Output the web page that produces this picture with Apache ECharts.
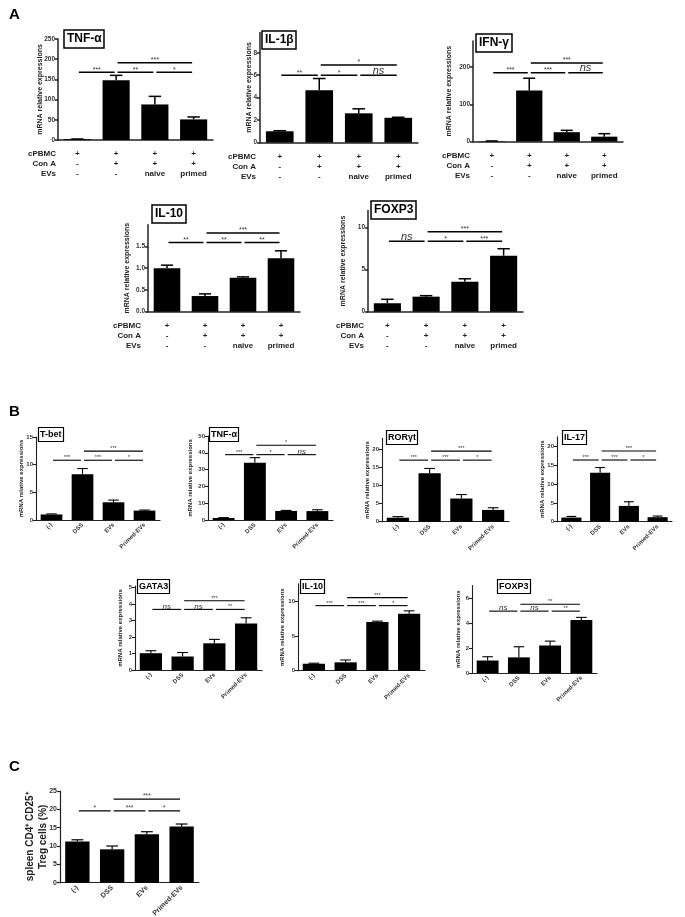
<!DOCTYPE html>
<html>
<head>
<meta charset="utf-8">
<script src="https://cdn.jsdelivr.net/npm/echarts@6/dist/echarts.min.js"></script>
<style>
  html, body { margin: 0; padding: 0; background: #fff; }
  #chart { width: 685px; height: 917px; }
</style>
</head>
<body>
<div id="chart"></div>
<script>
// ---------- panel A: cPBMC culture conditions ----------
const rowCpbmc = ['+', '+', '+', '+'];
const rowConA = ['-', '+', '+', '+'];
const rowEVs = ['-', '-', 'naive', 'primed'];

const tnfA = [2, 148, 88, 51];
const tnfAErr = [0.5, 12, 20, 6];
const tnfASig = [[0, 1, 168, '***'], [1, 2, 168, '**'], [2, 3, 168, '*'], [1, 3, 191, '***']];

const il1bA = [1.0, 4.65, 2.6, 2.2];
const il1bAErr = [0.05, 1.05, 0.4, 0.05];
const il1bASig = [[0, 1, 6.0, '**'], [1, 2, 6.0, '*'], [2, 3, 6.0, 'ns'], [1, 3, 6.9, '*']];

const ifngA = [1, 137, 25, 13];
const ifngAErr = [0.5, 33, 5, 8];
const ifngASig = [[0, 1, 185, '***'], [1, 2, 185, '***'], [2, 3, 185, 'ns'], [1, 3, 211, '***']];

const il10A = [1.0, 0.36, 0.78, 1.23];
const il10AErr = [0.07, 0.05, 0.02, 0.17];
const il10ASig = [[0, 1, 1.59, '**'], [1, 2, 1.59, '**'], [2, 3, 1.59, '**'], [1, 3, 1.81, '***']];

const foxp3A = [1.0, 1.78, 3.55, 6.64];
const foxp3AErr = [0.47, 0.12, 0.35, 0.82];
const foxp3ASig = [[0, 1, 8.34, 'ns'], [1, 2, 8.34, '*'], [2, 3, 8.34, '***'], [1, 3, 9.48, '***']];

// ---------- panel B / C: DSS colitis groups ----------
const groupsB = ['(-)', 'DSS', 'EVs', 'Primed-EVs'];

const tbetB = [1.0, 8.25, 3.2, 1.7];
const tbetBErr = [0.1, 1.05, 0.4, 0.1];
const tbetBSig = [[0, 1, 10.8, '***'], [1, 2, 10.8, '***'], [2, 3, 10.8, '*'], [1, 3, 12.45, '***']];

const tnfB = [1.2, 34.1, 5.4, 5.3];
const tnfBErr = [0.2, 3.0, 0.3, 0.8];
const tnfBSig = [[0, 1, 38.9, '***'], [1, 2, 38.9, '*'], [2, 3, 38.9, 'ns'], [1, 3, 44.5, '*']];

const rorgtB = [1.1, 13.4, 6.4, 3.25];
const rorgtBErr = [0.3, 1.3, 1.1, 0.6];
const rorgtBSig = [[0, 1, 17.0, '***'], [1, 2, 17.0, '***'], [2, 3, 17.0, '*'], [1, 3, 19.5, '***']];

const il17B = [1.1, 13.0, 4.2, 1.2];
const il17BErr = [0.3, 1.4, 1.1, 0.3];
const il17BSig = [[0, 1, 16.4, '***'], [1, 2, 16.4, '***'], [2, 3, 16.4, '*'], [1, 3, 18.8, '***']];

const gata3B = [1.02, 0.82, 1.62, 2.83];
const gata3BErr = [0.15, 0.24, 0.24, 0.34];
const gata3BSig = [[0, 1, 3.68, 'ns'], [1, 2, 3.68, 'ns'], [2, 3, 3.68, '**'], [1, 3, 4.2, '***']];

const il10B = [1.0, 1.2, 7.0, 8.2];
const il10BErr = [0.08, 0.34, 0.12, 0.4];
const il10BSig = [[0, 1, 9.35, '***'], [1, 2, 9.35, '***'], [2, 3, 9.35, '*'], [1, 3, 10.5, '***']];

const foxp3B = [1.0, 1.25, 2.2, 4.25];
const foxp3BErr = [0.3, 0.85, 0.35, 0.2];
const foxp3BSig = [[0, 1, 4.95, 'ns'], [1, 2, 4.95, 'ns'], [2, 3, 4.95, '**'], [1, 3, 5.5, '**']];

const tregC = [11.2, 9.1, 13.2, 15.3];
const tregCErr = [0.5, 0.9, 0.7, 0.7];
const tregCSig = [[0, 1, 19.6, '*'], [1, 2, 19.6, '***'], [2, 3, 19.6, '*'], [1, 3, 22.8, '***']];

const FONT = '"Liberation Sans", Arial, sans-serif';
const INK = '#222';

const option = {
  animation: false,
  backgroundColor: '#fff',
  title: [
    { text: 'A', left: 4, top: 2, textStyle: { fontSize: 15, fontWeight: 'bold', fontFamily: FONT, color: '#000' } },
    { text: 'B', left: 4, top: 399, textStyle: { fontSize: 15, fontWeight: 'bold', fontFamily: FONT, color: '#000' } },
    { text: 'C', left: 4, top: 754, textStyle: { fontSize: 15, fontWeight: 'bold', fontFamily: FONT, color: '#000' } }
  ],
  grid: [], xAxis: [], yAxis: [], series: []
};

// style presets for the three kinds of sub-charts
const KIND = {
  A: { lw: 1.5, tick: 6.5, name: 7, nameGap: 12, star: 7, ns: 11, cap: 0.16, title: 12, titlePad: [3, 3], titleBorder: 1.5 },
  B: { lw: 1.1, tick: 6, name: 6, nameGap: 11, star: 5.5, ns: 8, cap: 0.17, title: 9, titlePad: [3, 2], titleBorder: 1.2, xFont: 6 },
  C: { lw: 1.2, tick: 7, name: 10, nameGap: 10, star: 6.5, ns: 9, cap: 0.17, xFont: 7 }
};

function errRender(k) {
  return function (params, api) {
    const base = api.coord([api.value(0), api.value(1)]);
    const top = api.coord([api.value(0), api.value(2)]);
    const half = api.size([1, 0])[0] * k.cap;
    const st = { stroke: '#000', lineWidth: k.lw };
    return {
      type: 'group',
      children: [
        { type: 'line', shape: { x1: base[0], y1: base[1], x2: top[0], y2: top[1] }, style: st },
        { type: 'line', shape: { x1: top[0] - half, y1: top[1], x2: top[0] + half, y2: top[1] }, style: st }
      ]
    };
  };
}

function sigRender(sig, k) {
  return function (params, api) {
    const s = sig[params.dataIndex];
    const a = api.coord([s[0], s[2]]);
    const b = api.coord([s[1], s[2]]);
    const ns = s[3] === 'ns';
    return {
      type: 'group',
      children: [
        { type: 'line', shape: { x1: a[0] + 1.5, y1: a[1], x2: b[0] - 1.5, y2: b[1] }, style: { stroke: '#000', lineWidth: k.lw } },
        {
          type: 'text', x: (a[0] + b[0]) / 2, y: ns ? a[1] + 1 : a[1] - 2.5,
          style: {
            text: s[3], align: 'center', verticalAlign: ns ? 'bottom' : 'middle',
            fontSize: ns ? k.ns : k.star, fontStyle: ns ? 'italic' : 'normal',
            fontFamily: FONT, fill: '#333'
          }
        }
      ]
    };
  };
}

function addChart(p) {
  const k = KIND[p.kind];
  const gi = option.grid.length;
  option.grid.push({ left: p.left, top: p.bottom - p.height, width: p.width, height: p.height, outerBoundsMode: 'none' });

  const xi = option.xAxis.length;
  option.xAxis.push({
    type: 'category', gridIndex: gi, data: p.kind === 'A' ? rowEVs : groupsB,
    axisLine: { lineStyle: { color: INK, width: k.lw } },
    axisTick: { alignWithLabel: true, length: 3, lineStyle: { color: INK, width: k.lw } },
    axisLabel: p.kind === 'A' ? { show: false } : {
      interval: 0, rotate: 45, margin: 4, fontSize: k.xFont, fontWeight: 'bold', fontFamily: FONT, color: '#333'
    }
  });

  if (p.kind === 'A') {
    const rows = [['cPBMC', rowCpbmc], ['Con A', rowConA], ['EVs', rowEVs]];
    rows.forEach((r, j) => {
      option.xAxis.push({
        type: 'category', gridIndex: gi, position: 'bottom', offset: 14 + j * 10, data: r[1],
        axisLine: { show: false }, axisTick: { show: false },
        axisLabel: { interval: 0, margin: 0, verticalAlign: 'middle', fontSize: 8, fontWeight: 'bold', fontFamily: FONT, color: INK },
        name: r[0], nameLocation: 'start', nameGap: p.rowGap, nameMoveOverlap: false,
        nameTextStyle: { fontSize: 8, fontWeight: 'bold', fontFamily: FONT, color: INK, align: 'right', verticalAlign: 'middle' }
      });
    });
  }

  const yi = option.yAxis.length;
  option.yAxis.push({
    type: 'value', gridIndex: gi, min: 0, max: p.max,
    name: p.yName || 'mRNA relative expressions', nameLocation: 'middle', nameGap: p.nameGap || k.nameGap,
    nameMoveOverlap: false,
    nameTextStyle: { fontSize: k.name, fontWeight: 'bold', fontFamily: FONT, color: INK, lineHeight: k.name * 1.3 },
    axisLine: { show: true, lineStyle: { color: INK, width: k.lw } },
    axisTick: { show: true, length: 3, customValues: p.ticks, lineStyle: { color: INK, width: k.lw } },
    axisLabel: {
      customValues: p.ticks, margin: 3, fontSize: k.tick, fontWeight: 'bold', fontFamily: FONT, color: '#333',
      formatter: p.fmt || (v => String(v))
    },
    splitLine: { show: false }
  });

  if (p.title) {
    option.title.push({
      text: p.title, left: p.tLeft, top: p.tTop, padding: k.titlePad,
      borderWidth: k.titleBorder, borderColor: '#000',
      textStyle: { fontSize: k.title, fontWeight: 'bold', fontFamily: FONT, color: '#000' }
    });
  }

  option.series.push(
    { type: 'bar', xAxisIndex: xi, yAxisIndex: yi, data: p.values, barWidth: p.barWidth || '70%', itemStyle: { color: '#000' }, silent: true },
    { type: 'custom', xAxisIndex: xi, yAxisIndex: yi, data: p.values.map((v, i) => [i, v, v + p.err[i]]), renderItem: errRender(k), silent: true, z: 3 },
    { type: 'custom', xAxisIndex: xi, yAxisIndex: yi, data: p.sig.map(s => [s[0], s[1], s[2]]), renderItem: sigRender(p.sig, k), silent: true, z: 3 }
  );
}

// ---- panel A, top row ----
addChart({ kind: 'A', left: 58, width: 155, bottom: 140, height: 101, max: 250, ticks: [0, 50, 100, 150, 200, 250],
  values: tnfA, err: tnfAErr, sig: tnfASig, title: 'TNF-α', tLeft: 64, tTop: 30, rowGap: 2, nameGap: 13 });
addChart({ kind: 'A', left: 260, width: 158, bottom: 142.5, height: 110, max: 9.8, ticks: [0, 2, 4, 6, 8],
  values: il1bA, err: il1bAErr, sig: il1bASig, title: 'IL-1β', tLeft: 262, tTop: 31, rowGap: 4, nameGap: 6 });
addChart({ kind: 'A', left: 473, width: 150, bottom: 141.5, height: 100.5, max: 270, ticks: [0, 100, 200],
  values: ifngA, err: ifngAErr, sig: ifngASig, title: 'IFN-γ', tLeft: 476, tTop: 34, rowGap: 3, nameGap: 19 });
// ---- panel A, bottom row ----
addChart({ kind: 'A', left: 148, width: 152, bottom: 311.7, height: 87, max: 2.0, ticks: [0, 0.5, 1, 1.5],
  values: il10A, err: il10AErr, sig: il10ASig, title: 'IL-10', tLeft: 152, tTop: 205, rowGap: 7, nameGap: 16, fmt: v => v.toFixed(1) });
addChart({ kind: 'A', left: 368, width: 155, bottom: 311.7, height: 101.3, max: 12, ticks: [0, 5, 10],
  values: foxp3A, err: foxp3AErr, sig: foxp3ASig, title: 'FOXP3', tLeft: 371, tTop: 201, rowGap: 4, nameGap: 20 });

// ---- panel B, top row ----
addChart({ kind: 'B', left: 36, width: 124, bottom: 520, height: 83, max: 15, ticks: [0, 5, 10, 15],
  values: tbetB, err: tbetBErr, sig: tbetBSig, title: 'T-bet', tLeft: 38, tTop: 427 });
addChart({ kind: 'B', left: 208, width: 125, bottom: 520, height: 84, max: 50, ticks: [0, 10, 20, 30, 40, 50],
  values: tnfB, err: tnfBErr, sig: tnfBSig, title: 'TNF-α', tLeft: 209, tTop: 427, nameGap: 14 });
addChart({ kind: 'B', left: 382, width: 127, bottom: 521.7, height: 83.3, max: 23, ticks: [0, 5, 10, 15, 20],
  values: rorgtB, err: rorgtBErr, sig: rorgtBSig, title: 'RORγt', tLeft: 386, tTop: 430 });
addChart({ kind: 'B', left: 557, width: 115, bottom: 521.7, height: 85, max: 22.6, ticks: [0, 5, 10, 15, 20],
  values: il17B, err: il17BErr, sig: il17BSig, title: 'IL-17', tLeft: 562, tTop: 430 });
// ---- panel B, bottom row ----
addChart({ kind: 'B', left: 135, width: 127, bottom: 670, height: 84, max: 5.1, ticks: [0, 1, 2, 3, 4, 5],
  values: gata3B, err: gata3BErr, sig: gata3BSig, title: 'GATA3', tLeft: 137, tTop: 579 });
addChart({ kind: 'B', left: 298, width: 127, bottom: 670.7, height: 87, max: 12.5, ticks: [0, 5, 10],
  values: il10B, err: il10BErr, sig: il10BSig, title: 'IL-10', tLeft: 300, tTop: 579, nameGap: 12 });
addChart({ kind: 'B', left: 472, width: 125, bottom: 673, height: 87.5, max: 7, ticks: [0, 2, 4, 6],
  values: foxp3B, err: foxp3BErr, sig: foxp3BSig, title: 'FOXP3', tLeft: 497, tTop: 579, nameGap: 10 });

// ---- panel C ----
addChart({ kind: 'C', left: 60, width: 139, bottom: 882.7, height: 91.7, max: 25, ticks: [0, 5, 10, 15, 20, 25],
  values: tregC, err: tregCErr, sig: tregCSig, yName: 'spleen CD4⁺ CD25⁺\nTreg cells (%)' });

const chart = echarts.init(document.getElementById('chart'));
chart.setOption(option);
</script>
</body>
</html>
